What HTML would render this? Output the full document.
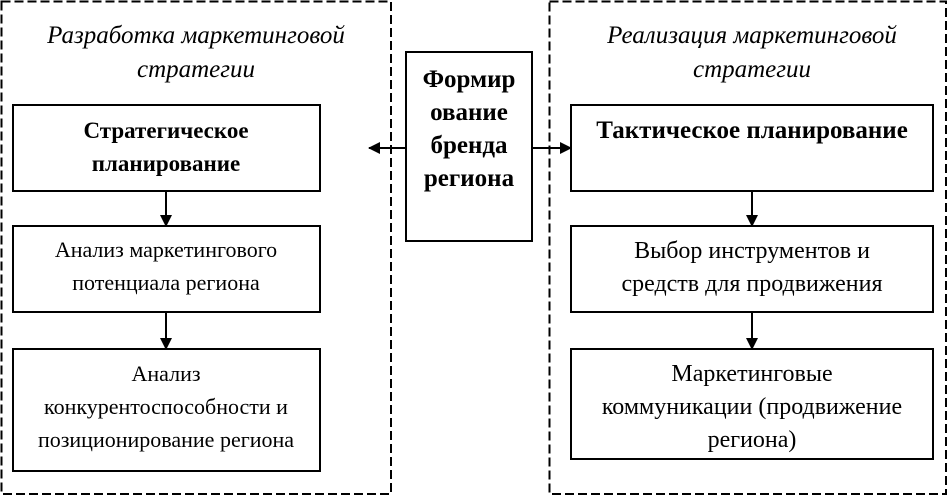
<!DOCTYPE html>
<html><head><meta charset="utf-8"><style>
html,body{margin:0;padding:0;background:#fff;}
svg{display:block;}
text{font-family:"Liberation Serif",serif;font-size:22px;fill:#000;text-anchor:middle;}
.b{font-weight:bold;}
.i{font-style:italic;font-size:25px;}
</style></head><body>
<svg width="948" height="496" viewBox="0 0 948 496">
<defs><marker id="a" markerWidth="12" markerHeight="12" refX="11" refY="6" orient="auto" markerUnits="userSpaceOnUse"><path d="M0,0 L12,6 L0,12 z" fill="#000"/></marker></defs>
<g fill="none" stroke="#000" stroke-width="2" stroke-dasharray="9,4">
<rect x="1.5" y="1.5" width="389.5" height="492.5"/>
<rect x="549.5" y="1.5" width="396.5" height="492.5"/>
</g>
<g fill="#fff" stroke="#000" stroke-width="2">
<rect x="13" y="105" width="307" height="86"/>
<rect x="13" y="226" width="307" height="86"/>
<rect x="13" y="349" width="307" height="122"/>
<rect x="406" y="52" width="126" height="189"/>
<rect x="571" y="105" width="362" height="86"/>
<rect x="571" y="226" width="362" height="86"/>
<rect x="571" y="349" width="362" height="110"/>
</g>
<g stroke="#000" stroke-width="2" marker-end="url(#a)">
<line x1="166" y1="191" x2="166" y2="226"/>
<line x1="166" y1="312" x2="166" y2="349"/>
<line x1="752" y1="191" x2="752" y2="226"/>
<line x1="752" y1="312" x2="752" y2="349"/>
<line x1="406" y1="148" x2="369" y2="148"/>
<line x1="532" y1="148" x2="571" y2="148"/>
</g>
<text class="i" x="196" y="43">Разработка маркетинговой</text>
<text class="i" x="196" y="77">стратегии</text>
<text class="i" x="752" y="43">Реализация маркетинговой</text>
<text class="i" x="752" y="77">стратегии</text>
<text class="b" x="166" y="138" style="font-size:23px">Стратегическое</text>
<text class="b" x="166" y="171" style="font-size:23px">планирование</text>
<text x="166" y="257">Анализ маркетингового</text>
<text x="166" y="290">потенциала региона</text>
<text x="166" y="381">Анализ</text>
<text x="166" y="414">конкурентоспособности и</text>
<text x="166" y="447">позиционирование региона</text>
<text class="b" x="469" y="87" style="font-size:25px">Формир</text>
<text class="b" x="469" y="120" style="font-size:25px">ование</text>
<text class="b" x="469" y="153" style="font-size:25px">бренда</text>
<text class="b" x="469" y="186" style="font-size:25px">региона</text>
<text class="b" x="752" y="138" style="font-size:25px">Тактическое планирование</text>
<text x="752" y="258" style="font-size:24px">Выбор инструментов и</text>
<text x="752" y="291" style="font-size:24px">средств для продвижения</text>
<text x="752" y="381" style="font-size:24px">Маркетинговые</text>
<text x="752" y="414" style="font-size:24px">коммуникации (продвижение</text>
<text x="752" y="447" style="font-size:24px">региона)</text>
</svg>
</body></html>
